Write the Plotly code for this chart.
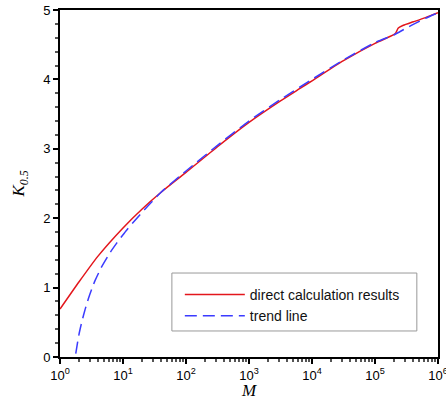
import plotly.graph_objects as go

# direct calculation results: log10(M) and K_0.5
red_logM = [0.0, 0.3, 0.6, 1.0, 1.3, 1.6, 2.0, 2.5, 3.0, 3.5, 3.81, 4.0, 4.5, 5.0, 5.29, 5.33, 5.37, 5.45, 5.61, 5.8, 6.0]
red_K =    [0.69, 1.08, 1.45, 1.86, 2.13, 2.37, 2.66, 3.03, 3.38, 3.69, 3.87, 3.98, 4.27, 4.52, 4.64, 4.67, 4.74, 4.78, 4.83, 4.89, 4.96]

# trend line
blue_logM = [0.25, 0.3, 0.35, 0.4, 0.45, 0.5, 0.556, 0.656, 0.8, 0.9, 1.05, 1.27, 1.6, 2.0, 2.5, 3.0, 3.5, 4.0, 4.5, 5.0, 5.3, 5.4, 5.6, 5.8, 6.0]
blue_K =    [0.05, 0.32, 0.52, 0.69, 0.84, 0.97, 1.10, 1.29, 1.51, 1.64, 1.82, 2.05, 2.37, 2.68, 3.05, 3.40, 3.71, 4.00, 4.28, 4.53, 4.64, 4.69, 4.79, 4.88, 4.96]

x_tickvals = [1, 10, 100, 1000, 1e4, 1e5, 1e6]
x_ticktext = ["10<sup>0</sup>", "10<sup>1</sup>", "10<sup>2</sup>", "10<sup>3</sup>",
              "10<sup>4</sup>", "10<sup>5</sup>", "10<sup>6</sup>"]

red_M = [10 ** v for v in red_logM]
blue_M = [10 ** v for v in blue_logM]

fig = go.Figure()
fig.add_trace(go.Scatter(x=red_M, y=red_K, mode="lines", name="direct calculation results",
                         line=dict(color="#e3161c", width=1.5, shape="spline", smoothing=0.6)))
fig.add_trace(go.Scatter(x=blue_M, y=blue_K, mode="lines", name="trend line",
                         line=dict(color="#3b3bff", width=1.5, dash="12px,6px", shape="spline", smoothing=0.6)))

# legend frame
fig.add_shape(type="rect", xref="paper", yref="paper",
              x0=0.296, x1=0.944, y0=0.075, y1=0.242,
              line=dict(color="#999999", width=1), fillcolor="white", layer="below")

fig.update_layout(
    width=446, height=400,
    margin=dict(l=60, r=8, t=10, b=43, autoexpand=False),
    paper_bgcolor="white", plot_bgcolor="white",
    font=dict(family="Liberation Sans, Arial", size=13, color="black"),
    showlegend=True,
    legend=dict(x=0.317, y=0.225, xanchor="left", yanchor="top",
                borderwidth=0, bgcolor="rgba(0,0,0,0)",
                font=dict(size=14, family="Liberation Sans, Arial", color="#111111"),
                tracegroupgap=0, itemwidth=60),
)
fig.update_xaxes(
    type="log", range=[0, 6], automargin=True, ticklabeloverflow="allow",
    tickvals=x_tickvals, ticktext=x_ticktext,
    ticks="outside", ticklen=5, tickwidth=1.5, tickcolor="black",
    minor=dict(ticks="outside", ticklen=3, tickcolor="#555555", dtick="D1", showgrid=False),
    showline=True, linecolor="black", linewidth=2, mirror=True,
    showgrid=False, zeroline=False,
    title=dict(text="M", font=dict(family="Liberation Serif, Times New Roman", size=17, style="italic"), standoff=2),
)
fig.update_yaxes(
    range=[0, 5], dtick=1, automargin=True,
    ticks="outside", ticklen=5, tickwidth=1.5, tickcolor="black",
    minor=dict(ticks="outside", ticklen=3, tickcolor="#555555", dtick=0.2, showgrid=False),
    showline=True, linecolor="black", linewidth=2, mirror=True,
    showgrid=False, zeroline=False,
    title=dict(text="K<sub>0.5</sub>", font=dict(family="Liberation Serif, Times New Roman", size=17, style="italic"), standoff=14),
)

fig.write_html("out.html", config={"displayModeBar": False},
               post_script="document.body.style.margin='0px';document.body.style.overflow='hidden';")
